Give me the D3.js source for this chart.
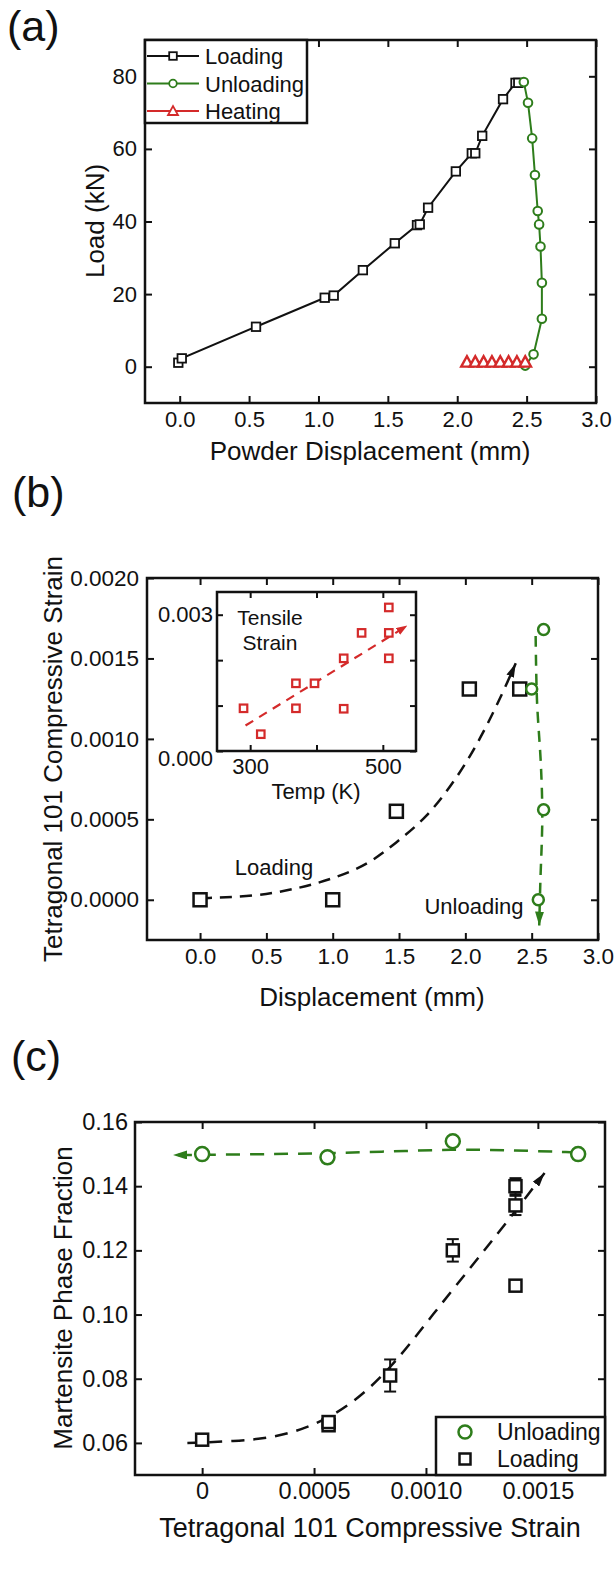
<!DOCTYPE html>
<html>
<head>
<meta charset="utf-8">
<script src="https://cdn.jsdelivr.net/npm/d3@7"></script>
<style>
body { margin: 0; background: #fff; }
svg text { font-family: "Liberation Sans", Arial, sans-serif; fill: #111; }
</style>
</head>
<body>
<svg id="fig" width="614" height="1579"></svg>
<script>
// Colours
const black = '#111';
const green = '#2e7d1b';
const red = '#d42a2a';

// ---- Panel (a): load vs powder displacement ----
const aLoadX = [-0.01, 0.015, 0.55, 1.045, 1.11, 1.32, 1.55, 1.71, 1.73, 1.79, 1.99, 2.105, 2.13, 2.18, 2.33, 2.42, 2.44];
const aLoadY = [1.1, 2.3, 11.0, 19.0, 19.6, 26.6, 34.0, 39.0, 39.2, 43.8, 53.8, 58.8, 58.8, 63.6, 73.7, 78.2, 78.2];
const aUnloadX = [2.48, 2.51, 2.54, 2.56, 2.58, 2.59, 2.60, 2.61, 2.61, 2.55, 2.49];
const aUnloadY = [78.4, 72.7, 62.9, 52.8, 42.9, 39.2, 33.1, 23.1, 13.2, 3.4, 0.3];
const aHeatX = [2.07, 2.13, 2.19, 2.25, 2.31, 2.37, 2.43, 2.49];
const aHeatY = [1.3, 1.3, 1.3, 1.3, 1.3, 1.3, 1.3, 1.3];
const aXTicks = [0, 0.5, 1.0, 1.5, 2.0, 2.5, 3.0];
const aYTicks = [0, 20, 40, 60, 80];
const aLegend = ['Loading', 'Unloading', 'Heating'];

// ---- Panel (b): compressive strain vs displacement ----
const bLoadX = [0, 1.0, 1.48, 2.03, 2.41];
const bLoadY = [0, 0, 0.00055, 0.00131, 0.00131];
const bUnloadX = [2.59, 2.50, 2.59, 2.55];
const bUnloadY = [0.00168, 0.00131, 0.00056, 0.0];
const bLoadTrendX = [0, 0.41, 0.74, 1.0, 1.27, 1.47, 1.71, 1.94, 2.12, 2.29, 2.38];
const bLoadTrendY = [0.00001, 0.00002, 0.00007, 0.00013, 0.00022, 0.00035, 0.00051, 0.00076, 0.00101, 0.0013, 0.00147];
const bUnloadTrendX = [2.53, 2.54, 2.57, 2.58, 2.565, 2.557];
const bUnloadTrendY = [0.00164, 0.00124, 0.00083, 0.00051, 0.0001, -0.00016];
const bXTicks = [0, 0.5, 1.0, 1.5, 2.0, 2.5, 3.0];
const bYTicks = [0, 0.0005, 0.001, 0.0015, 0.002];

// inset: tensile strain vs temperature
const insetTemp = [290, 316, 369, 369, 397, 441, 441, 468, 509, 509, 509];
const insetStrain = [0.00094, 0.00037, 0.00149, 0.00094, 0.00149, 0.00204, 0.00093, 0.0026, 0.00316, 0.0026, 0.00204];
const insetTrendX = [293, 537];
const insetTrendY = [0.00056, 0.00276];
const insetXTicks = [300, 400, 500];
const insetXLabels = [300, 500];
const insetYTicks = [0, 0.001, 0.002, 0.003];
const insetYLabels = [0, 0.003];

// ---- Panel (c): martensite fraction vs compressive strain ----
const cUnloadX = [0, 0.00056, 0.00112, 0.00168];
const cUnloadY = [0.150, 0.149, 0.154, 0.150];
const cLoadX = [0, 0.000565, 0.000565, 0.00084, 0.00112, 0.0014, 0.0014, 0.0014];
const cLoadY = [0.061, 0.0655, 0.0665, 0.081, 0.120, 0.140, 0.134, 0.109];
const cLoadErr = [0.0005, 0.001, 0.001, 0.005, 0.0035, 0.0025, 0.003, 0.001];
const cUnloadTrendX = [0.00167, 0.0014, 0.00112, 0.0008, 0.0005, 0.0002, -0.00013];
const cUnloadTrendY = [0.1505, 0.1512, 0.1515, 0.1507, 0.1502, 0.1499, 0.1497];
const cLoadTrendX = [-0.000066, 0.000144, 0.00032, 0.000496, 0.00067, 0.000846, 0.00102, 0.0012, 0.001355, 0.00153];
const cLoadTrendY = [0.0600, 0.0605, 0.0616, 0.0652, 0.0720, 0.0834, 0.0991, 0.1147, 0.1282, 0.1441];
const cXTicks = [0, 0.0005, 0.001, 0.0015];
const cYTicks = [0.06, 0.08, 0.10, 0.12, 0.14, 0.16];
const cLegend = ['Unloading', 'Loading'];

const zip = (xs, ys) => xs.map((v, i) => [v, ys[i]]);

const svg = d3.select('#fig');
const defs = svg.append('defs');

// Filled arrowhead markers for the dashed guide curves
function arrowMarker(id, color, len, wid) {
    defs.append('marker')
        .attr('id', id)
        .attr('viewBox', `0 0 ${len} ${wid}`)
        .attr('refX', len).attr('refY', wid / 2)
        .attr('markerWidth', len).attr('markerHeight', wid)
        .attr('markerUnits', 'userSpaceOnUse')
        .attr('orient', 'auto')
        .append('path')
        .attr('d', `M0,0L${len},${wid / 2}L0,${wid}Z`)
        .attr('fill', color);
}
arrowMarker('arrBlack', black, 14, 8);
arrowMarker('arrGreen', green, 14, 9);
arrowMarker('arrRed', red, 11, 8);

// Boxed frame with inward ticks on all four sides
function addAxes(g, x, y, xTicks, yTicks, xFmt, yFmt, fontSize, pad, tick) {
    const [x0, x1] = x.range();
    const [y0, y1] = y.range();
    const sides = [
        { ax: d3.axisBottom(x).tickValues(xTicks).tickFormat(xFmt), t: `translate(0,${y0})` },
        { ax: d3.axisTop(x).tickValues(xTicks).tickFormat(''), t: `translate(0,${y1})` },
        { ax: d3.axisLeft(y).tickValues(yTicks).tickFormat(yFmt), t: `translate(${x0},0)` },
        { ax: d3.axisRight(y).tickValues(yTicks).tickFormat(''), t: `translate(${x1},0)` }
    ];
    sides.forEach(s => {
        const a = g.append('g')
            .attr('transform', s.t)
            .call(s.ax.tickSizeInner(-tick).tickSizeOuter(0).tickPadding(pad));
        a.select('.domain').remove();
        a.attr('font-family', null).attr('font-size', fontSize);
        a.selectAll('line').attr('stroke', black).attr('stroke-width', 2);
        a.selectAll('text').attr('fill', black);
    });
    g.append('rect')
        .attr('x', x0).attr('y', y1)
        .attr('width', x1 - x0).attr('height', y0 - y1)
        .attr('fill', 'none').attr('stroke', black).attr('stroke-width', 2.5);
}

function squares(g, pts, x, y, size, color, sw) {
    g.selectAll(null).data(pts).enter().append('rect')
        .attr('x', d => x(d[0]) - size / 2).attr('y', d => y(d[1]) - size / 2)
        .attr('width', size).attr('height', size)
        .attr('fill', '#fff').attr('stroke', color).attr('stroke-width', sw);
}

function circles(g, pts, x, y, r, color, sw) {
    g.selectAll(null).data(pts).enter().append('circle')
        .attr('cx', d => x(d[0])).attr('cy', d => y(d[1])).attr('r', r)
        .attr('fill', '#fff').attr('stroke', color).attr('stroke-width', sw);
}

function triangles(g, pts, x, y, s, color, sw) {
    g.selectAll(null).data(pts).enter().append('path')
        .attr('d', d => {
            const cx = x(d[0]), cy = y(d[1]);
            return `M${cx - s / 2},${cy + s * 0.4}L${cx + s / 2},${cy + s * 0.4}L${cx},${cy - s * 0.5}Z`;
        })
        .attr('fill', '#fff').attr('stroke', color).attr('stroke-width', sw);
}

function panelLabel(text, x, y) {
    svg.append('text').attr('x', x).attr('y', y)
        .attr('font-size', 43).text(text);
}

function yTitle(text, cx, cy, size) {
    svg.append('text')
        .attr('transform', `translate(${cx},${cy}) rotate(-90)`)
        .attr('text-anchor', 'middle').attr('dominant-baseline', 'central')
        .attr('font-size', size).text(text);
}

function xTitle(text, cx, cy, size) {
    svg.append('text').attr('x', cx).attr('y', cy)
        .attr('text-anchor', 'middle').attr('dominant-baseline', 'central')
        .attr('font-size', size).text(text);
}

// ================= Panel (a) =================
panelLabel('(a)', 7, 41);
const ax = d3.scaleLinear().domain([-0.25, 3.0]).range([145, 596]);
const ay = d3.scaleLinear().domain([-10, 90]).range([403, 40]);
const ga = svg.append('g');
addAxes(ga, ax, ay, aXTicks, aYTicks, d3.format('.1f'), d3.format('d'), 22, 8, 7);

const lineA = d3.line().x(d => ax(d[0])).y(d => ay(d[1]));
ga.append('path').datum(zip(aLoadX, aLoadY))
    .attr('d', lineA).attr('fill', 'none').attr('stroke', black).attr('stroke-width', 2);
ga.append('path').datum(zip(aUnloadX, aUnloadY))
    .attr('d', lineA).attr('fill', 'none').attr('stroke', green).attr('stroke-width', 2);
squares(ga, zip(aLoadX, aLoadY), ax, ay, 8.5, black, 1.8);
circles(ga, zip(aUnloadX, aUnloadY), ax, ay, 4.3, green, 2);
ga.append('path').datum(zip(aHeatX, aHeatY))
    .attr('d', lineA).attr('fill', 'none').attr('stroke', red).attr('stroke-width', 2);
triangles(ga, zip(aHeatX, aHeatY), ax, ay, 11.5, red, 2.4);

// legend (a)
const legA = ga.append('g');
legA.append('rect').attr('x', 145).attr('y', 40).attr('width', 162).attr('height', 83)
    .attr('fill', '#fff').attr('stroke', black).attr('stroke-width', 2.5);
const legAColors = [black, green, red];
aLegend.forEach((name, i) => {
    const yy = 56 + i * 27.5;
    legA.append('line').attr('x1', 147).attr('x2', 199).attr('y1', yy).attr('y2', yy)
        .attr('stroke', legAColors[i]).attr('stroke-width', 2);
    const px = 173;
    if (i === 0) {
        legA.append('rect').attr('x', px - 3.8).attr('y', yy - 3.8).attr('width', 7.6).attr('height', 7.6)
            .attr('fill', '#fff').attr('stroke', black).attr('stroke-width', 1.8);
    } else if (i === 1) {
        legA.append('circle').attr('cx', px).attr('cy', yy).attr('r', 3.8)
            .attr('fill', '#fff').attr('stroke', green).attr('stroke-width', 1.8);
    } else {
        legA.append('path').attr('d', `M${px - 5},${yy + 4}L${px + 5},${yy + 4}L${px},${yy - 5}Z`)
            .attr('fill', '#fff').attr('stroke', red).attr('stroke-width', 1.8);
    }
    legA.append('text').attr('x', 205).attr('y', yy + 8).attr('font-size', 22).text(name);
});

yTitle('Load (kN)', 95, 221, 26);
xTitle('Powder Displacement (mm)', 370, 451, 26);

// ================= Panel (b) =================
panelLabel('(b)', 12, 507);
const bx = d3.scaleLinear().domain([-0.4, 3.0]).range([147, 598]);
const by = d3.scaleLinear().domain([-0.00025, 0.002]).range([940, 578]);
const gb = svg.append('g');
addAxes(gb, bx, by, bXTicks, bYTicks, d3.format('.1f'), d3.format('.4f'), 22.5, 8, 7);

const curveB = d3.line().x(d => bx(d[0])).y(d => by(d[1])).curve(d3.curveBasis);
const curveBv = d3.line().x(d => bx(d[0])).y(d => by(d[1])).curve(d3.curveCatmullRom);
gb.append('path').datum(zip(bLoadTrendX, bLoadTrendY))
    .attr('d', curveB).attr('fill', 'none').attr('stroke', black).attr('stroke-width', 2.5)
    .attr('stroke-dasharray', '12,8').attr('marker-end', 'url(#arrBlack)');
gb.append('path').datum(zip(bUnloadTrendX, bUnloadTrendY))
    .attr('d', curveBv).attr('fill', 'none').attr('stroke', green).attr('stroke-width', 2.5)
    .attr('stroke-dasharray', '11,8').attr('marker-end', 'url(#arrGreen)');
squares(gb, zip(bLoadX, bLoadY), bx, by, 13, black, 2.5);
circles(gb, zip(bUnloadX, bUnloadY), bx, by, 5.5, green, 2.5);

gb.append('text').attr('x', 274).attr('y', 875).attr('text-anchor', 'middle')
    .attr('font-size', 22).text('Loading');
gb.append('text').attr('x', 474).attr('y', 914).attr('text-anchor', 'middle')
    .attr('font-size', 22).text('Unloading');

// inset
const ix = d3.scaleLinear().domain([250, 550]).range([217, 416]);
const iy = d3.scaleLinear().domain([0, 0.0035]).range([751, 592]);
const gi = svg.append('g');
gi.append('rect').attr('x', 217).attr('y', 592).attr('width', 199).attr('height', 159).attr('fill', '#fff');
addAxes(gi, ix, iy, insetXTicks, insetYTicks,
    d => insetXLabels.includes(d) ? d3.format('d')(d) : '',
    d => insetYLabels.includes(d) ? d3.format('.3f')(d) : '', 22, 4, 6);
gi.selectAll('g').filter(function () {
    return (this.getAttribute('transform') || '').startsWith('translate(0,751');
}).selectAll('text').attr('y', 7);
const lineI = d3.line().x(d => ix(d[0])).y(d => iy(d[1]));
gi.append('path').datum(zip(insetTrendX, insetTrendY))
    .attr('d', lineI).attr('fill', 'none').attr('stroke', red).attr('stroke-width', 2.2)
    .attr('stroke-dasharray', '9,7').attr('marker-end', 'url(#arrRed)');
squares(gi, zip(insetTemp, insetStrain), ix, iy, 7.5, red, 2.2);
gi.append('text').attr('x', 270).attr('y', 625).attr('text-anchor', 'middle')
    .attr('font-size', 21).text('Tensile');
gi.append('text').attr('x', 270).attr('y', 650).attr('text-anchor', 'middle')
    .attr('font-size', 21).text('Strain');
xTitle('Temp (K)', 316, 791, 22);

yTitle('Tetragonal 101 Compressive Strain', 53, 759, 26);
xTitle('Displacement (mm)', 372, 997, 26);

// ================= Panel (c) =================
panelLabel('(c)', 11, 1071);
const cx = d3.scaleLinear().domain([-0.0003, 0.0018]).range([135, 605]);
const cy = d3.scaleLinear().domain([0.05, 0.16]).range([1475, 1122]);
const gc = svg.append('g');
addAxes(gc, cx, cy, cXTicks, cYTicks,
    d => d === 0 ? '0' : d3.format('.4f')(d), d3.format('.2f'), 23.5, 7, 7);

const curveC = d3.line().x(d => cx(d[0])).y(d => cy(d[1])).curve(d3.curveBasis);
gc.append('path').datum(zip(cUnloadTrendX, cUnloadTrendY))
    .attr('d', curveC).attr('fill', 'none').attr('stroke', green).attr('stroke-width', 2.5)
    .attr('stroke-dasharray', '14,10').attr('marker-end', 'url(#arrGreen)');
gc.append('path').datum(zip(cLoadTrendX, cLoadTrendY))
    .attr('d', curveC).attr('fill', 'none').attr('stroke', black).attr('stroke-width', 2.5)
    .attr('stroke-dasharray', '13,9').attr('marker-end', 'url(#arrBlack)');

// error bars (c)
const errPts = cLoadX.map((v, i) => [v, cLoadY[i], cLoadErr[i]]);
const eb = gc.append('g').attr('stroke', black).attr('stroke-width', 2);
errPts.forEach(d => {
    const xx = cx(d[0]), yLo = cy(d[1] - d[2]), yHi = cy(d[1] + d[2]);
    eb.append('line').attr('x1', xx).attr('x2', xx).attr('y1', yLo).attr('y2', yHi);
    eb.append('line').attr('x1', xx - 6).attr('x2', xx + 6).attr('y1', yLo).attr('y2', yLo);
    eb.append('line').attr('x1', xx - 6).attr('x2', xx + 6).attr('y1', yHi).attr('y2', yHi);
});
squares(gc, zip(cLoadX, cLoadY), cx, cy, 12, black, 2.5);
circles(gc, zip(cUnloadX, cUnloadY), cx, cy, 7, green, 2.5);

// legend (c)
const legC = gc.append('g');
legC.append('rect').attr('x', 436).attr('y', 1417).attr('width', 169).attr('height', 58)
    .attr('fill', '#fff').attr('stroke', black).attr('stroke-width', 2.5);
legC.append('circle').attr('cx', 465).attr('cy', 1432).attr('r', 6.5)
    .attr('fill', '#fff').attr('stroke', green).attr('stroke-width', 2.5);
legC.append('rect').attr('x', 459.5).attr('y', 1453.5).attr('width', 11).attr('height', 11)
    .attr('fill', '#fff').attr('stroke', black).attr('stroke-width', 2.5);
cLegend.forEach((name, i) => {
    legC.append('text').attr('x', 497).attr('y', 1440 + i * 27).attr('font-size', 23).text(name);
});

yTitle('Martensite Phase Fraction', 63, 1298, 26);
xTitle('Tetragonal 101 Compressive Strain', 370, 1528, 27);
</script>
</body>
</html>
